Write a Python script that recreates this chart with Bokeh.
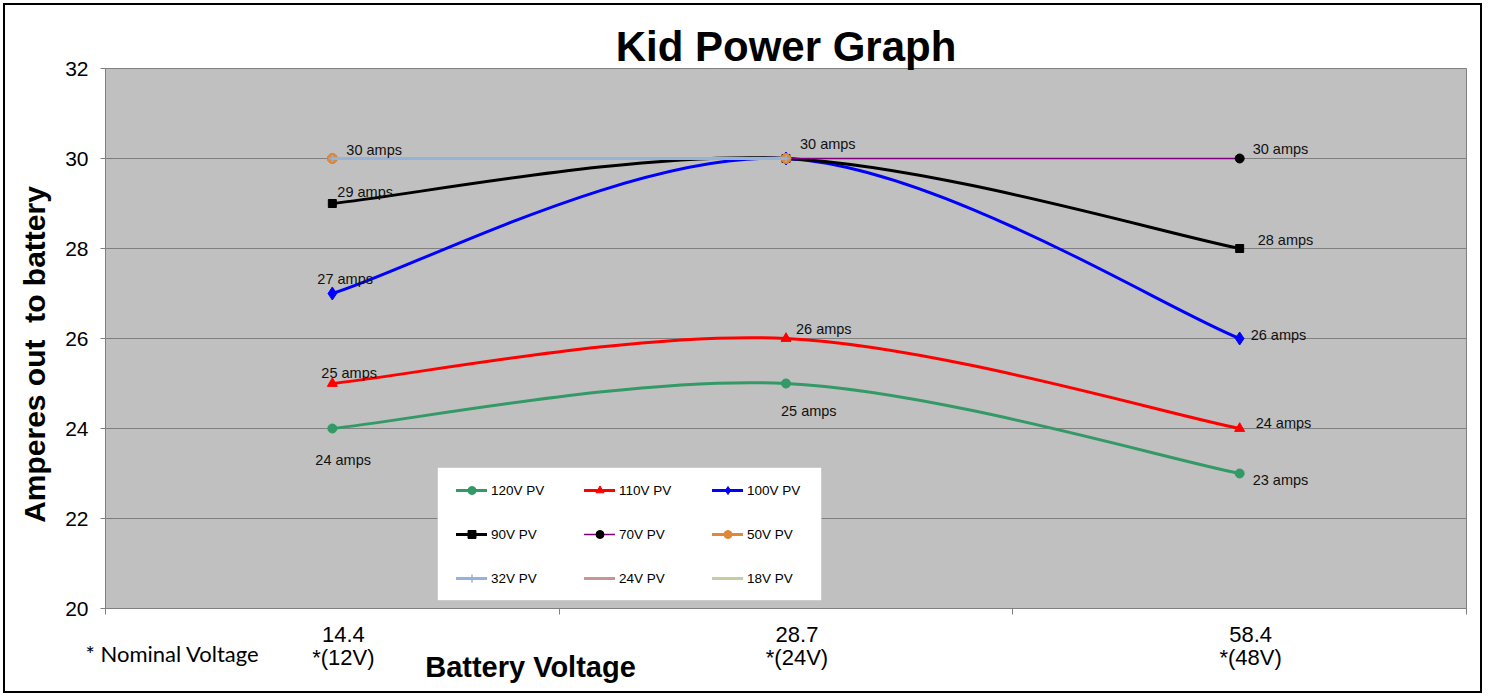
from bokeh.plotting import figure
from bokeh.models import (ColumnDataSource, FixedTicker, Legend, LegendItem,
                          Range1d, BoxAnnotation, LinearAxis)
from bokeh.core.properties import value
from bokeh.embed import file_html
from bokeh.resources import INLINE

# ---------------- data ----------------
categories = ["14.4", "28.7", "58.4"]
nominal = ["*(12V)", "*(24V)", "*(48V)"]
series_names = ["120V PV", "110V PV", "100V PV", "90V PV", "70V PV",
                "50V PV", "32V PV", "24V PV", "18V PV"]
amps_120 = [24, 25, 23]
amps_110 = [25, 26, 24]
amps_100 = [27, 30, 26]
amps_90 = [29, 30, 28]
amps_70 = [30, 30, 30]
amps_50 = [30, 30, None]
amps_32 = [30, 30, None]
amps_24 = [None, None, None]
amps_18 = [None, None, None]
y_ticks = [20, 22, 24, 26, 28, 30, 32]

series_values = [amps_120, amps_110, amps_100, amps_90, amps_70,
                 amps_50, amps_32, amps_24, amps_18]

# ---------------- styles ----------------
styles = {
    "120V PV": dict(color="#339966", marker="circle", size=9, lw=3),
    "110V PV": dict(color="#FF0000", marker="triangle", size=10, lw=3),
    "100V PV": dict(color="#0000FF", marker="diamond", size=13, lw=3),
    "90V PV": dict(color="#000000", marker="square", size=8, lw=3),
    "70V PV": dict(color="#800080", marker="circle", size=9, lw=1.5, mcolor="#000000"),
    "50V PV": dict(color="#E0883A", marker="circle", size=10, lw=3),
    "32V PV": dict(color="#95B3D7", marker="cross", size=7, lw=3),
    "24V PV": dict(color="#C89494", marker=None, size=0, lw=3),
    "18V PV": dict(color="#C3CFA0", marker=None, size=0, lw=3),
}

# data label offsets (screen px: dx right, dy down, relative to point, baseline)
label_offsets = {
    ("120V PV", 0): (-17, 31), ("120V PV", 1): (-5, 27), ("120V PV", 2): (13, 6),
    ("110V PV", 0): (-11, -11), ("110V PV", 1): (10, -10), ("110V PV", 2): (16, -6),
    ("100V PV", 0): (-15, -15), ("100V PV", 2): (11, -4),
    ("90V PV", 0): (5, -12), ("90V PV", 2): (18, -9),
    ("70V PV", 2): (13, -10),
    ("50V PV", 0): (14, -9), ("50V PV", 1): (14, -15),
}

FONT = "Liberation Sans"

W, H = 1485, 696
FL, FR, FT, FB = 105, 1466, 68, 608   # frame edges in page pixels
NCAT = len(categories)


def px_to_x(px):
    return round((px - FL) / (FR - FL) * NCAT, 5)


def px_to_y(py):
    return round(y_ticks[0] + (FB - py) / (FB - FT) * (y_ticks[-1] - y_ticks[0]), 5)


p = figure(width=W, height=H, x_range=Range1d(0, NCAT), y_range=Range1d(y_ticks[0], y_ticks[-1]),
           output_backend="svg", toolbar_location=None, title="Kid Power Graph",
           min_border_left=FL, min_border_right=W - FR, min_border_top=FT, min_border_bottom=H - FB,
           background_fill_color="#C0C0C0", border_fill_color=None,
           outline_line_color="#808080", outline_line_width=1)
p.styles = {"background-color": "white",
            "box-shadow": "inset 0 0 0 3px white, inset 0 0 0 5px black"}

p.title.align = "center"
p.title.text_font = FONT
p.title.text_font_size = "42px"
p.title.text_font_style = "bold"
p.title.text_color = "#000000"
p.title.standoff = -3

p.xgrid.visible = False
p.ygrid.grid_line_color = "#808080"
p.ygrid.grid_line_width = 1

# y axis
p.yaxis.ticker = FixedTicker(ticks=y_ticks)
p.yaxis.axis_line_color = "#808080"
p.yaxis.major_tick_line_color = "#808080"
p.yaxis.major_tick_in = 0
p.yaxis.major_tick_out = 5
p.yaxis.minor_tick_line_color = None
p.yaxis.major_label_standoff = 12
p.yaxis.major_label_text_font = FONT
p.yaxis.major_label_text_font_size = "21px"
p.yaxis.major_label_text_color = "#000000"

ylab_pos = px_to_y(354)
yax2 = LinearAxis(ticker=FixedTicker(ticks=[ylab_pos]),
                  major_label_overrides={ylab_pos: "Amperes out\u00a0 to battery"},
                  major_label_orientation="vertical",
                  axis_line_color=None, major_tick_line_color=None, minor_tick_line_color=None,
                  major_tick_in=0, major_tick_out=0, major_label_standoff=11,
                  major_label_text_font=FONT, major_label_text_font_size="30px",
                  major_label_text_font_style="bold", major_label_text_color="#000000")
p.add_layout(yax2, "left")

# x axis: only category boundary ticks
p.xaxis.ticker = FixedTicker(ticks=[], minor_ticks=list(range(NCAT + 1)))
p.xaxis.axis_line_color = "#808080"
p.xaxis.major_tick_line_color = "#808080"
p.xaxis.major_tick_in = 0
p.xaxis.major_tick_out = 5
p.xaxis.minor_tick_line_color = "#808080"
p.xaxis.minor_tick_in = 0
p.xaxis.minor_tick_out = 6
p.xaxis.major_label_text_color = None

# category labels sit slightly right of the category centres
shift = 11 / (FR - FL) * NCAT
p.extra_x_ranges = {"lab": Range1d(-shift, NCAT - shift)}
cat_pos = [i + 0.5 for i in range(NCAT)]


def text_axis(ticks, labels, rng, font, size, standoff, style="normal"):
    kw = dict(ticker=FixedTicker(ticks=ticks),
              major_label_overrides={t: l for t, l in zip(ticks, labels)},
              axis_line_color=None, major_tick_line_color=None, minor_tick_line_color=None,
              major_tick_in=0, major_tick_out=0, major_label_standoff=standoff,
              major_label_text_font=font, major_label_text_font_size=size,
              major_label_text_font_style=style, major_label_text_color="#000000")
    if rng:
        kw["x_range_name"] = rng
    return LinearAxis(**kw)


p.add_layout(text_axis(cat_pos, categories, "lab", FONT, "22px", 12), "below")
p.add_layout(text_axis(cat_pos, nominal, "lab", FONT, "22px", 0), "below")
bv = px_to_x(530)
p.add_layout(text_axis([bv], ["Battery Voltage"], None, FONT, "29px", -22, "bold"), "below")
nv = px_to_x(172)
p.add_layout(text_axis([nv], ["* Nominal Voltage"], None, "Lato", "22px", -46), "below")


def bezier_segments(vals):
    n = len(vals)
    pts = [(i + 0.5, v) for i, v in enumerate(vals)]
    nan = float("nan")
    d = dict(x0=[], y0=[], x1=[], y1=[], cx0=[], cy0=[], cx1=[], cy1=[])
    for i in range(n - 1):
        if vals[i] is None or vals[i + 1] is None:
            continue
        p0, p1 = pts[i], pts[i + 1]
        pm = pts[i - 1] if i - 1 >= 0 and vals[i - 1] is not None else p0
        pn = pts[i + 2] if i + 2 < n and vals[i + 2] is not None else p1
        c0 = (p0[0] + (p1[0] - pm[0]) / 6.0, p0[1] + (p1[1] - pm[1]) / 6.0)
        c1 = (p1[0] - (pn[0] - p0[0]) / 6.0, p1[1] - (pn[1] - p0[1]) / 6.0)
        d["x0"].append(p0[0]); d["y0"].append(p0[1])
        d["x1"].append(p1[0]); d["y1"].append(p1[1])
        d["cx0"].append(c0[0]); d["cy0"].append(c0[1])
        d["cx1"].append(c1[0]); d["cy1"].append(c1[1])
    if not d["x0"]:
        for k in d:
            d[k].append(nan)
    return d


items = []
lab = dict(x=[], y=[], text=[], dx=[], dy=[])
for name, vals in zip(series_names, series_values):
    st = styles[name]
    seg = ColumnDataSource(bezier_segments(vals))
    r_line = p.bezier(x0="x0", y0="y0", x1="x1", y1="y1", cx0="cx0", cy0="cy0",
                      cx1="cx1", cy1="cy1", source=seg, line_color=st["color"],
                      line_width=st["lw"], line_cap="round")
    rends = [r_line]
    if st["marker"]:
        xs = [i + 0.5 for i, v in enumerate(vals) if v is not None]
        ys = [v for v in vals if v is not None]
        mc = st.get("mcolor", st["color"])
        if st["marker"] == "cross":
            r_m = p.scatter(xs, ys, marker="cross", size=st["size"], line_color=mc,
                            line_width=1.5)
        else:
            r_m = p.scatter(xs, ys, marker=st["marker"], size=st["size"],
                            fill_color=mc, line_color=mc)
        rends.append(r_m)
    items.append(LegendItem(label=name, renderers=rends))
    for i, v in enumerate(vals):
        if (name, i) in label_offsets and v is not None:
            dx, dy = label_offsets[(name, i)]
            lab["x"].append(i + 0.5); lab["y"].append(v)
            lab["text"].append(f"{v} amps")
            lab["dx"].append(dx); lab["dy"].append(dy)

p.text(x="x", y="y", text="text", x_offset="dx", y_offset="dy",
       source=ColumnDataSource(lab), text_font=value(FONT), text_font_size="14.5px",
       text_color="#111111", text_align="left", text_baseline="alphabetic")

# legend box + legend
box = BoxAnnotation(left=437 - FL, right=821 - FL, bottom=FB - 600, top=FB - 467,
                    left_units="screen", right_units="screen",
                    bottom_units="screen", top_units="screen",
                    fill_color="white", fill_alpha=1.0,
                    line_color="#A0A0A0", line_width=1)
p.add_layout(box)
legend = Legend(items=items, location=(456 - 12 - FL, FB - 600), orientation="horizontal", ncols=3,
                background_fill_alpha=0, border_line_alpha=0,
                padding=12, spacing=24, margin=0,
                glyph_width=31, glyph_height=20, label_height=20, label_width=69,
                label_standoff=4, label_text_font=FONT, label_text_font_size="13.5px",
                label_text_color="#000000")
p.add_layout(legend)

open("out.html", "w").write(file_html(p, INLINE))
